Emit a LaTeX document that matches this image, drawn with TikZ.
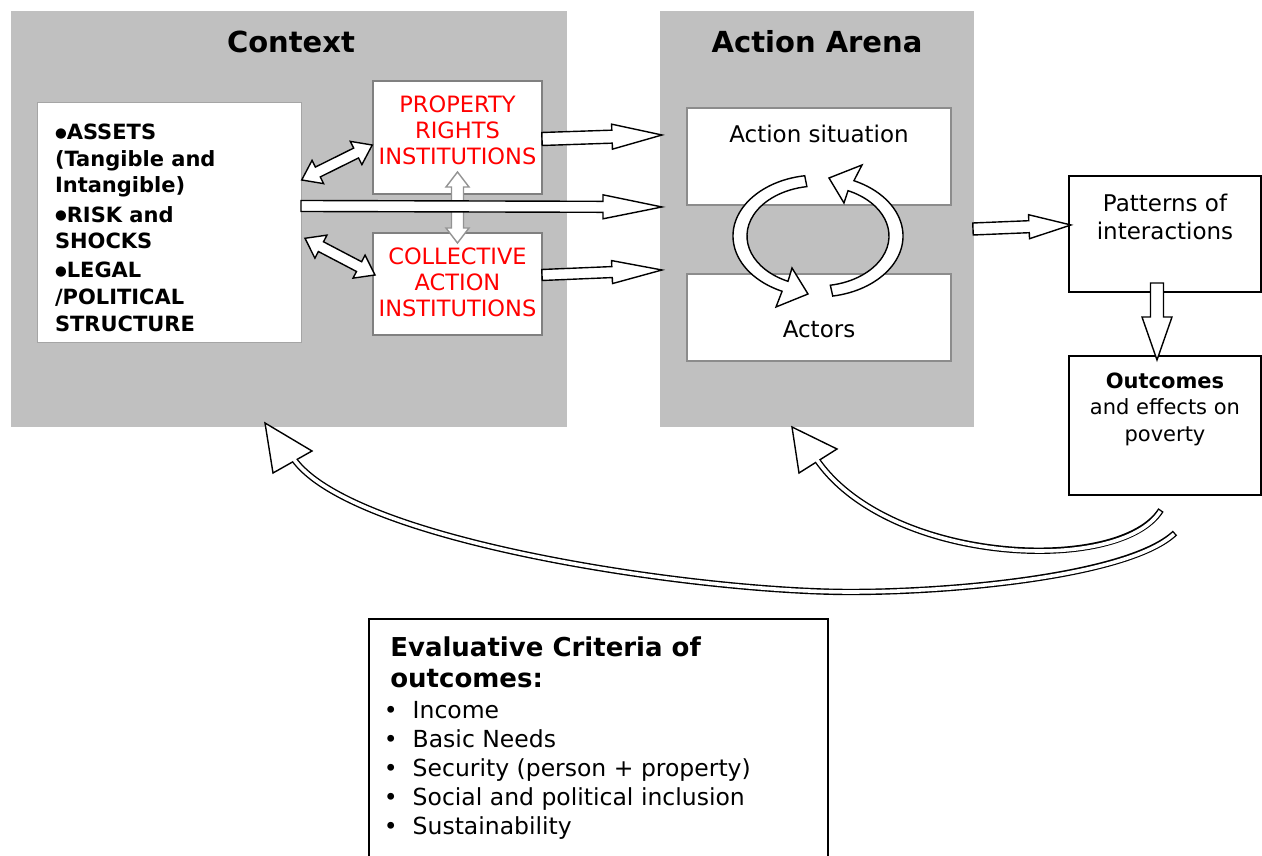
\documentclass[tikz,border=0pt]{standalone}
\usepackage{fontspec}
\setmainfont{DejaVu Sans}
\usetikzlibrary{calc}
\definecolor{panelgray}{RGB}{192,192,192}
\definecolor{boxgray}{RGB}{128,128,128}
\definecolor{arenaedge}{RGB}{140,140,140}
\definecolor{lightedge}{RGB}{165,165,165}
\definecolor{instred}{RGB}{255,0,0}
\newcommand\fsz[2]{\fontsize{#1}{#2}\selectfont}
\newcommand\bigdot{\raisebox{2.6pt}{\fsz{13.5}{13.5}●}}
% single block arrow: [style]{start}{tip}{shaft half}{head half}{head length}
\newcommand\blockarrow[6][]{%
  \path let \p1=#2, \p2=#3, \n1={atan2(\y2-\y1,\x2-\x1)}, \n2={veclen(\x2-\x1,\y2-\y1)} in
    \pgfextra{\xdef\baang{\n1}\xdef\balen{\n2}\xdef\bax{\x1}\xdef\bay{\y1}};
  \begin{scope}[shift={(\bax,\bay)},rotate=\baang]
    \draw[blockarrowstyle,#1] (0,-#4) -- ({\balen-#6},-#4) -- ({\balen-#6},-#5) -- (\balen,0)
      -- ({\balen-#6},#5) -- ({\balen-#6},#4) -- (0,#4) -- cycle;
  \end{scope}}
% double block arrow
\newcommand\dblarrow[6][]{%
  \path let \p1=#2, \p2=#3, \n1={atan2(\y2-\y1,\x2-\x1)}, \n2={veclen(\x2-\x1,\y2-\y1)} in
    \pgfextra{\xdef\baang{\n1}\xdef\balen{\n2}\xdef\bax{\x1}\xdef\bay{\y1}};
  \begin{scope}[shift={(\bax,\bay)},rotate=\baang]
    \draw[blockarrowstyle,#1] (0,0) -- (#6,#5) -- (#6,#4) -- ({\balen-#6},#4) -- ({\balen-#6},#5)
      -- (\balen,0) -- ({\balen-#6},-#5) -- ({\balen-#6},-#4) -- (#6,-#4) -- (#6,-#5) -- cycle;
  \end{scope}}
\tikzset{
  panel/.style={fill=panelgray, inner sep=0pt, outer sep=0pt},
  whitebox/.style={fill=white, inner sep=0pt, outer sep=0pt},
  instbox/.style={whitebox, draw=boxgray, line width=2pt, minimum width=169pt},
  arenabox/.style={whitebox, draw=arenaedge, line width=1.6pt, minimum width=264pt},
  blackbox/.style={whitebox, draw=black, line width=1.5pt},
  blockarrowstyle/.style={draw=black, fill=white, line width=1.4pt, line join=miter},
  greyarrow/.style={draw=boxgray!85},
  bandouter/.style={draw=black, line width=6.4pt, line cap=butt},
  bandinner/.style={draw=white, line width=3.6pt, line cap=butt},
  titletext/.style={anchor=base, font=\bfseries\fsz{29}{34}},
  assetline/.style={anchor=base west, font=\bfseries\fsz{21}{26}},
  redtext/.style={align=center, text=instred, font=\fsz{22.5}{26}},
  bodytext/.style={anchor=base, font=\fsz{23}{28}},
  itemtext/.style={anchor=base west, font=\fsz{23.5}{29}},
}
\begin{document}
\begin{tikzpicture}[x=1pt,y=1pt, every node/.style={inner sep=0pt, outer sep=0pt}]
\useasboundingbox[fill=white] (0,0) rectangle (1262,856);

% panels
\node[panel, minimum width=556pt, minimum height=416pt] (context) at (289,637) {};
\node[panel, minimum width=314pt, minimum height=416pt] (arena) at (817,637) {};
\node[titletext] (ctxtitle) at (291,803.5) {Context};
\node[titletext] (arenatitle) at (817,803.5) {Action Arena};

% context contents
\node[whitebox, draw=lightedge, line width=1pt, minimum width=264pt, minimum height=240pt] (assets) at (169,633) {};
\node[assetline] (as1) at (55,716) {\bigdot ASSETS};
\node[assetline] (as2) at (55,689.5) {(Tangible and};
\node[assetline] (as3) at (55,663) {Intangible)};
\node[assetline] (as4) at (55,633.5) {\bigdot RISK and};
\node[assetline] (as5) at (55,607.5) {SHOCKS};
\node[assetline] (as6) at (55,578) {\bigdot LEGAL};
\node[assetline] (as7) at (55,551) {/POLITICAL};
\node[assetline] (as8) at (55,524.5) {STRUCTURE};

\node[instbox, minimum height=113pt] (pr) at (457.5,718.5) {};
\node[redtext] (prtext) at (457.5,726) {PROPERTY\\RIGHTS\\INSTITUTIONS};
\node[instbox, minimum height=102pt] (ca) at (457.5,572) {};
\node[redtext] (catext) at (457.5,574) {COLLECTIVE\\ACTION\\INSTITUTIONS};

% action arena contents
\node[arenabox, minimum height=97pt] (situation) at (819,699.5) {};
\node[bodytext] (sittext) at (819,713.6) {Action situation};
\node[arenabox, minimum height=87pt] (actors) at (819,538.5) {};
\node[bodytext] (acttext) at (819,518.6) {Actors};

% right boxes
\node[blackbox, minimum width=192pt, minimum height=116pt] (pat) at (1165,622) {};
\node[align=center, font=\fsz{23}{28}] (pattext) at (1165,638.8) {Patterns of\\interactions};
\node[blackbox, minimum width=192pt, minimum height=139pt] (out) at (1165,430.5) {};
\node[align=center, font=\fsz{21}{26.5}] (outtext) at (1165,447) {\textbf{Outcomes}\\and effects on\\poverty};

% evaluative criteria
\node[blackbox, line width=2pt, minimum width=459pt, minimum height=242pt] (eval) at (598.5,116) {};
\node[anchor=base west, font=\bfseries\fsz{26}{28}] (evt1) at (390.3,199) {Evaluative Criteria of};
\node[anchor=base west, font=\bfseries\fsz{26}{28}] (evt2) at (390.3,168) {outcomes:};
\foreach \yy/\txt [count=\i] in {137.5/Income, 108.5/Basic Needs, 79.5/Security (person + property), 50.5/Social and political inclusion, 21.5/Sustainability}{
  \node[anchor=base, font=\fsz{23.5}{29}] (evb\i) at (390.8,\yy) {•};
  \node[itemtext] (evi\i) at (412.7,\yy) {\txt};
}

% connectors inside context
\dblarrow[greyarrow]{($(pr.south)+(0,22)$)}{($(ca.north)+(0,-10)$)}{6}{11.5}{15}
\dblarrow{($(assets.east)+(0.7,43)$)}{($(pr.west)+(-0.7,-7.5)$)}{5.5}{13}{18}
\dblarrow{($(assets.east)+(4,-15.3)$)}{($(ca.west)+(2,9)$)}{5.5}{13}{18}
\coordinate (inPR) at (662,721);
\coordinate (inMid) at (662,649);
\coordinate (inCA) at (662,586);
\blockarrow{($(pr.east)+(0,-1.5)$)}{(inPR)}{6.5}{12.5}{50}
\blockarrow{($(assets.east)+(0,17)$)}{(inMid)}{5.5}{12}{59}
\blockarrow{($(ca.east)+(0,9)$)}{(inCA)}{5.5}{11.5}{50}

% cycle arrows
\coordinate (cyc) at (818,620);
\draw[blockarrowstyle] ([shift={(99:85 and 61)}]cyc) arc[start angle=99,end angle=245,x radius=85,y radius=61]
  -- (776,549) -- (808,562) -- (792,588) -- ([shift={(245:71 and 50)}]cyc)
  arc[start angle=245,end angle=99,x radius=71,y radius=50] -- cycle;
\draw[blockarrowstyle] ([shift={(-80:85 and 61)}]cyc) arc[start angle=-80,end angle=65,x radius=85,y radius=61]
  -- (862,691) -- (829,678) -- (844,653) -- ([shift={(65:71 and 50)}]cyc)
  arc[start angle=65,end angle=-80,x radius=71,y radius=50] -- cycle;

% arena to patterns, patterns to outcomes
\blockarrow{($(arena.east)+(-1,-10)$)}{($(pat.west)+(2,9)$)}{6}{12}{42}
\blockarrow{($(pat.south)+(-8,9)$)}{($(out.north)+(-8,-4)$)}{6.5}{15}{43}

% feedback curves
\coordinate (c1s) at ($(out.south)+(-4,-15)$);
\coordinate (c1e) at (817,396);
\coordinate (t1tip) at (792,429);
\coordinate (t1a) at (837,407);
\coordinate (t1b) at (799,383);
\draw[bandouter] (c1s) .. controls (1120,281) and (890,291) .. (c1e);
\draw[blockarrowstyle] (t1tip) -- (t1a) -- (t1b) -- cycle;
\draw[bandinner, shorten <=1.4pt] (c1s) .. controls (1120,281) and (890,291) .. (c1e);

\coordinate (c2s) at ($(out.south)+(10,-38)$);
\coordinate (c2m) at (850,264);
\coordinate (c2e) at (293.3,397.5);
\coordinate (t2tip) at (265,433);
\coordinate (t2a) at (312,405);
\coordinate (t2b) at (273,383);
\draw[bandouter] (c2s) .. controls (1130,281) and (960,264) .. (c2m) .. controls (700,264) and (352.7,313.3) .. (c2e);
\draw[blockarrowstyle] (t2tip) -- (t2a) -- (t2b) -- cycle;
\draw[bandinner, shorten <=1.4pt] (c2s) .. controls (1130,281) and (960,264) .. (c2m) .. controls (700,264) and (352.7,313.3) .. (c2e);
\end{tikzpicture}
\end{document}
